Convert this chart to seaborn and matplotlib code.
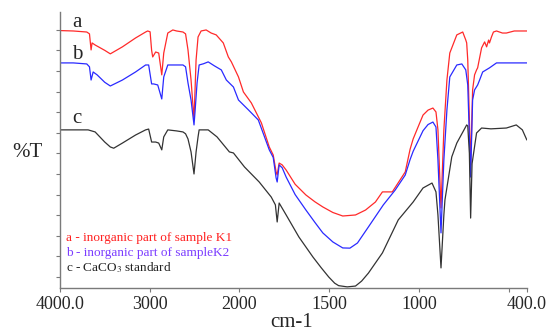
import numpy as np
import pandas as pd
import matplotlib
matplotlib.use("Agg")
import matplotlib.pyplot as plt
import seaborn as sns

# wavenumbers (cm-1) and transmittance (arbitrary %T units, curves offset)
wn_a = [4000, 3850, 3700, 3670, 3652, 3641, 3607, 3500, 3438, 3303, 3157, 3045, 3022, 2995,
        2978, 2966, 2933, 2899, 2865, 2843, 2798, 2742, 2700, 2629, 2600, 2573, 2539, 2506,
        2483, 2461, 2427, 2371, 2315, 2259, 2180, 2124, 2090, 2011, 1978, 1934, 1878, 1834,
        1812, 1796, 1790, 1779, 1762, 1740, 1690, 1630, 1580, 1536, 1480, 1425, 1354, 1298,
        1243, 1204, 1149, 1077, 1050, 1033, 1000, 978, 950, 923, 906, 895, 878, 862, 845, 829,
        790, 757, 740, 735, 729, 713, 702, 691, 680, 674, 652, 635, 624, 613, 608, 597, 586,
        569, 536, 514, 470, 400]
t_a = [119.6, 119.4, 118.9, 118.0, 110.2, 113.6, 112.6, 110.0, 108.3, 111.7, 116.0, 118.9, 119.4, 119.0,
       110.0, 106.8, 109.2, 108.7, 98.1, 108.7, 118.4, 119.9, 119.4, 118.9, 118.0, 110.2, 95.6, 76.2,
       105.3, 116.5, 119.4, 119.9, 118.4, 117.5, 113.6, 106.8, 104.4, 97.1, 89.8, 84.5, 74.8, 63.1,
       59.2, 51.0, 49.5, 55.3, 54.4, 51.9, 45.0, 39.8, 36.5, 34.0, 31.3, 29.6, 30.1, 32.5,
       36.4, 41.3, 41.3, 51.0, 62.0, 67.0, 74.0, 78.6, 81.0, 82.0, 80.1, 71.4, 33.5, 71.4, 95.6, 108.7,
       117.5, 118.9, 115.0, 113.6, 105.3, 54.4, 90.8, 98.1, 100.5, 101.5, 111.2, 114.1, 111.7, 115.0, 113.6, 116.5, 118.9,
       119.4, 118.4, 118.4, 119.4, 119.4]

wn_b = [4000, 3850, 3700, 3670, 3652, 3629, 3585, 3500, 3438, 3303, 3157, 3045, 3011, 2978,
        2955, 2910, 2865, 2843, 2798, 2700, 2629, 2600, 2573, 2539, 2506, 2495, 2472, 2449,
        2400, 2348, 2280, 2202, 2146, 2067, 2011, 1950, 1895, 1834, 1812, 1796, 1790, 1779,
        1762, 1740, 1690, 1630, 1580, 1536, 1480, 1425, 1385, 1343, 1282, 1199, 1133, 1077,
        1050, 1033, 1000, 978, 950, 923, 906, 895, 878, 862, 845, 829, 790, 762, 740, 729,
        713, 702, 691, 674, 663, 646, 608, 569, 514, 400]
t_b = [103.9, 103.9, 103.4, 102.0, 95.6, 99.5, 98.1, 94.5, 92.7, 95.6, 99.5, 102.9, 102.9, 93.7,
       93.7, 93.2, 86.4, 97.1, 102.9, 102.9, 102.9, 102.0, 94.2, 85.9, 73.8, 80.0, 94.2, 102.9,
       103.5, 104.4, 102.5, 100.5, 95.6, 92.2, 85.9, 81.1, 76.2, 61.7, 58.0, 48.1, 46.1, 54.4,
       53.0, 48.5, 40.0, 32.5, 26.5, 21.4, 17.0, 14.1, 14.0, 16.5, 24.3, 35.0, 42.2, 49.5,
       57.0, 61.0, 67.0, 71.0, 74.0, 75.2, 72.8, 56.8, 21.4, 56.8, 81.1, 97.1, 102.9, 103.4, 100.5, 93.2,
       48.5, 85.9, 90.8, 93.2, 95.6, 99.5, 101.5, 103.9, 103.9, 103.9]

wn_c = [4000, 3850, 3685, 3607, 3500, 3438, 3400, 3303, 3157, 3045, 3011, 2978, 2933, 2899,
        2865, 2843, 2798, 2700, 2629, 2600, 2573, 2539, 2506, 2483, 2461, 2449, 2348, 2250,
        2112, 2067, 1972, 1890, 1823, 1800, 1790, 1779, 1740, 1669, 1591, 1545, 1503, 1470,
        1448, 1400, 1354, 1320, 1282, 1204, 1116, 1033, 978, 928, 906, 895, 878, 862, 856, 818,
        790, 735, 729, 720, 713, 705, 680, 652, 600, 514, 459, 425, 400]
t_c = [71.4, 71.4, 71.4, 70.4, 65.5, 63.1, 62.5, 65.0, 68.9, 71.4, 71.8, 65.5, 65.5, 65.0,
       61.7, 68.0, 71.4, 70.9, 70.4, 69.5, 67.0, 60.7, 50.0, 60.7, 68.0, 71.4, 71.4, 68.0,
       60.7, 60.2, 53.4, 46.1, 38.8, 35.0, 26.7, 35.9, 30.1, 19.4, 9.7, 4.5, 0.0, -3.0,
       -4.2, -4.8, -4.4, -2.0, 1.9, 11.7, 27.7, 36.4, 43.2, 45.6, 41.3, 30.1, 4.4, 30.1, 37.4, 58.3,
       65.0, 73.8, 73.3, 60.0, 28.6, 55.0, 69.9, 72.3, 71.9, 72.3, 73.8, 71.4, 66.5]

curve_ids = ["a", "b", "c"]
legend_texts = ["a - inorganic part of sample K1",
                "b - inorganic part of sampleK2",
                "c - CaCO$_3$ standard"]
x_ticks = [4000, 3000, 2000, 1500, 1000, 500, 400]
x_ticklabels = ["4000.0", "3000", "2000", "1500", "1000", "", "400.0"]

df = pd.concat([
    pd.DataFrame({"wn": wn_a, "T": t_a, "curve": "a"}),
    pd.DataFrame({"wn": wn_b, "T": t_b, "curve": "b"}),
    pd.DataFrame({"wn": wn_c, "T": t_c, "curve": "c"}),
])

sns.set_style("white")
plt.rcParams["font.family"] = ["Liberation Serif", "DejaVu Serif"]
plt.rcParams["mathtext.fontset"] = "stix"


def fwd(x):
    x = np.asarray(x, dtype=float)
    return np.where(x <= 2000, x, 2000 + (x - 2000) * 0.5)


def inv(y):
    y = np.asarray(y, dtype=float)
    return np.where(y <= 2000, y, 2000 + (y - 2000) * 2.0)


fig = plt.figure(figsize=(5.54, 3.34), dpi=100)
ax = fig.add_axes([0.108, 0.138, 0.843, 0.826])

line_colors = {"a": "#ff2a2a", "b": "#2a2aff", "c": "#333333"}
sns.lineplot(data=df, x="wn", y="T", hue="curve", palette=line_colors,
             estimator=None, sort=False, linewidth=0.9, legend=False, ax=ax)

ax.set_xscale("function", functions=(fwd, inv))
ax.set_xlim(4000, 400)
ax.set_ylim(-5.3, 128.6)
ax.set_xticks(x_ticks)
ax.set_xticklabels(x_ticklabels)
ax.xaxis.set_minor_locator(matplotlib.ticker.NullLocator())
ax.set_yticks(np.arange(0, 121, 10))
ax.set_yticklabels([])
ax.set_xlabel("")
ax.set_ylabel("")

for side in ["top", "right"]:
    ax.spines[side].set_visible(False)
for side in ["left", "bottom"]:
    ax.spines[side].set_color("#7a7a7a")
    ax.spines[side].set_linewidth(1.0)
ax.tick_params(axis="x", direction="out", length=3, color="#7a7a7a",
               labelsize=13, pad=3, bottom=True)
ax.tick_params(axis="y", direction="out", length=3, color="#7a7a7a", left=True)

# curve letters
label_y = {"a": 123.5, "b": 108.0, "c": 77.0}
for cid in curve_ids:
    ax.text(3810, label_y[cid], cid, fontsize=15, ha="center", va="center")

# legend-like notes
note_colors = ["#ff2020", "#7b3cff", "#222222"]
for i, (txt, col) in enumerate(zip(legend_texts, note_colors)):
    ax.text(0.013, 0.181 - i * 0.054, txt, color=col, fontsize=9.5,
            ha="left", va="center", transform=ax.transAxes)

fig.text(0.05, 0.542, "%T", fontsize=15, ha="center", va="center")
fig.text(0.527, 0.033, "cm-1", fontsize=15, ha="center", va="center")

fig.savefig("out.png", dpi=100)
